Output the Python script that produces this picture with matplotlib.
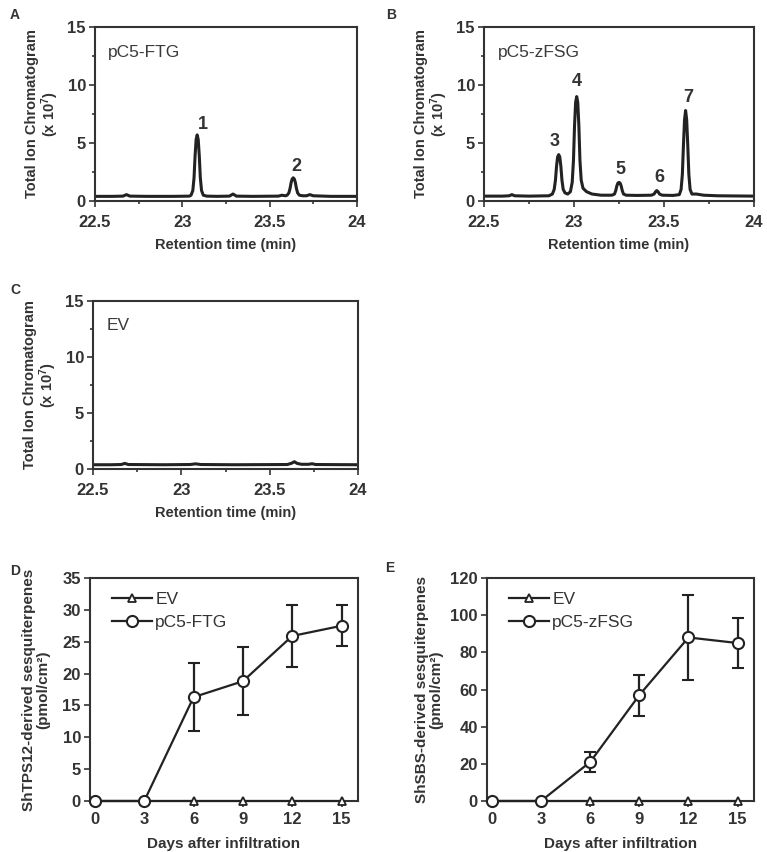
import matplotlib
matplotlib.use("Agg")
import matplotlib.pyplot as plt
from matplotlib.ticker import MultipleLocator
from matplotlib.lines import Line2D

plt.rcParams['font.family'] = ['Liberation Sans', 'DejaVu Sans']
plt.rcParams['mathtext.fontset'] = 'custom'
plt.rcParams['mathtext.rm'] = 'Liberation Sans:bold'
plt.rcParams['mathtext.it'] = 'Liberation Sans:bold'
plt.rcParams['mathtext.bf'] = 'Liberation Sans:bold'

# ---------------- data ----------------
# Chromatogram traces (retention time min, TIC x1e7)
ftg_t = [22.5, 22.6, 22.66, 22.68, 22.70, 22.8, 22.95, 23.04,
         23.05, 23.06, 23.067, 23.073, 23.079, 23.085, 23.091, 23.097, 23.103, 23.11, 23.12,
         23.14, 23.2, 23.27, 23.29, 23.31, 23.4, 23.55, 23.57, 23.59,
         23.60, 23.61, 23.617, 23.623, 23.629, 23.635, 23.641, 23.647, 23.653, 23.66, 23.67,
         23.69, 23.71, 23.73, 23.75, 23.85, 24.0]
ftg_i = [0.40, 0.40, 0.42, 0.55, 0.42, 0.40, 0.40, 0.42,
         0.5, 0.9, 2.0, 3.9, 5.3, 5.7, 5.3, 3.9, 2.0, 0.9, 0.5,
         0.42, 0.40, 0.42, 0.60, 0.42, 0.40, 0.42, 0.5, 0.45,
         0.5, 0.7, 1.1, 1.6, 1.9, 2.0, 1.9, 1.6, 1.1, 0.7, 0.5,
         0.45, 0.45, 0.55, 0.45, 0.40, 0.40]

zfsg_t = [22.5, 22.6, 22.64, 22.655, 22.67, 22.75, 22.86,
          22.88, 22.89, 22.897, 22.903, 22.909, 22.915, 22.921, 22.927, 22.933, 22.94, 22.95,
          22.965, 22.98,
          22.99, 22.997, 23.003, 23.009, 23.015, 23.021, 23.027, 23.033, 23.04, 23.05,
          23.07, 23.1, 23.15, 23.21,
          23.225, 23.232, 23.238, 23.244, 23.25, 23.256, 23.262, 23.268, 23.275,
          23.29, 23.35, 23.43,
          23.445, 23.453, 23.46, 23.467, 23.475, 23.49, 23.55,
          23.585, 23.595, 23.602, 23.608, 23.614, 23.62, 23.626, 23.632, 23.638, 23.645, 23.655,
          23.68, 23.70, 23.72, 23.8, 24.0]
zfsg_i = [0.42, 0.42, 0.45, 0.55, 0.45, 0.42, 0.45,
          0.6, 1.0, 1.8, 3.0, 3.8, 4.0, 3.8, 3.0, 1.8, 1.0, 0.7,
          0.6, 0.8,
          1.6, 3.5, 6.5, 8.5, 9.0, 8.5, 6.5, 3.5, 1.8, 1.1,
          0.8, 0.6, 0.5, 0.5,
          0.6, 0.9, 1.3, 1.55, 1.6, 1.55, 1.3, 0.9, 0.6,
          0.5, 0.48, 0.5,
          0.6, 0.8, 0.9, 0.8, 0.6, 0.5, 0.48,
          0.55, 1.0, 2.3, 4.8, 7.0, 7.8, 7.0, 4.8, 2.3, 1.0, 0.6,
          0.6, 0.55, 0.5, 0.45, 0.42]

ev_t = [22.5, 22.6, 22.66, 22.68, 22.70, 22.9, 23.05, 23.08, 23.11, 23.3, 23.6, 23.625,
        23.64, 23.655, 23.68, 23.72, 23.74, 23.76, 24.0]
ev_i = [0.38, 0.38, 0.40, 0.50, 0.40, 0.38, 0.40, 0.46, 0.40, 0.38, 0.40, 0.52,
        0.65, 0.50, 0.42, 0.42, 0.47, 0.40, 0.38]

# Peak labels
ftg_peak_labels = ["1", "2"]
ftg_peak_pos = [(23.12, 6.6), (23.655, 3.0)]
zfsg_peak_labels = ["3", "4", "5", "6", "7"]
zfsg_peak_pos = [(22.895, 5.1), (23.015, 10.3), (23.26, 2.7), (23.475, 2.0), (23.635, 8.9)]

# Time course
days = [0, 3, 6, 9, 12, 15]
ev_d = [0, 0, 0, 0, 0, 0]
ftg_d = [0, 0, 16.3, 18.8, 25.9, 27.5]
ftg_err = [0, 0, 5.3, 5.3, 4.8, 3.2]
ev_e = [0, 0, 0, 0, 0, 0]
zfsg_e = [0, 0, 21, 57, 88, 85]
zfsg_err = [0, 0, 5.5, 11, 23, 13.5]

# ---------------- layout ----------------
W, H = 767, 852
fig = plt.figure(figsize=(W / 100, H / 100), dpi=100)
TXT = '#333333'
LINE = '#222222'


def add_ax(l, t, r, b):
    return fig.add_axes([l / W, 1 - b / H, (r - l) / W, (b - t) / H])


def style(ax, ls=12, xpad=2.5):
    for s in ax.spines.values():
        s.set_linewidth(1.5)
        s.set_color(TXT)
    ax.tick_params(which='both', direction='out', color=TXT, labelcolor=TXT,
                   labelsize=ls, width=1.2, pad=2.5)
    ax.tick_params(axis='x', which='both', pad=xpad)
    ax.tick_params(which='major', length=4)
    ax.tick_params(which='minor', length=2.5)
    for lab in ax.get_xticklabels() + ax.get_yticklabels():
        lab.set_fontweight('bold')


def chrom(ax, t, i, name):
    ax.plot(t, i, color=LINE, lw=2.2, solid_joinstyle='round')
    ax.set_xlim(22.5, 24)
    ax.set_ylim(0, 15)
    ax.set_xticks([22.5, 23, 23.5, 24])
    ax.set_xticklabels(['22.5', '23', '23.5', '24'])
    ax.xaxis.set_minor_locator(MultipleLocator(0.25))
    ax.set_yticks([0, 5, 10, 15])
    ax.yaxis.set_minor_locator(MultipleLocator(2.5))
    ax.set_xlabel('Retention time (min)', fontsize=10.5, fontweight='bold', color=TXT, labelpad=6)
    ax.set_ylabel('Total Ion Chromatogram\n(x 10$^{7}$)', fontsize=10.5, fontweight='bold',
                  color=TXT, labelpad=5, linespacing=1.0)
    ax.text(22.575, 12.8, name, fontsize=12.5, color='#3a3a3a', va='center', ha='left')
    style(ax, xpad=6)


axA = add_ax(95, 27, 357, 201)
chrom(axA, ftg_t, ftg_i, 'pC5-FTG')
for lab, (x, y) in zip(ftg_peak_labels, ftg_peak_pos):
    axA.text(x, y, lab, fontsize=13, fontweight='bold', color=TXT, ha='center', va='center')

axB = add_ax(484, 27, 754, 201)
chrom(axB, zfsg_t, zfsg_i, 'pC5-zFSG')
for lab, (x, y) in zip(zfsg_peak_labels, zfsg_peak_pos):
    axB.text(x, y, lab, fontsize=13, fontweight='bold', color=TXT, ha='center', va='center')

axC = add_ax(93, 301, 358, 469)
chrom(axC, ev_t, ev_i, 'EV')


def course(ax, y, err, name, ymax, ystep, ylabel, ypad):
    ax.plot(days, ev_d, color=LINE, lw=1.6, marker='^', markersize=5.5,
            markerfacecolor='white', markeredgecolor=LINE, markeredgewidth=1.3,
            clip_on=False, zorder=3)
    ax.errorbar(days, y, yerr=err, color=LINE, lw=1.6, marker='o', markersize=8,
                markerfacecolor='white', markeredgecolor=LINE, markeredgewidth=1.5,
                capsize=4, elinewidth=1.6, capthick=1.6, clip_on=False, zorder=4)
    ax.set_xlim(-0.3, 16)
    ax.set_ylim(0, ymax)
    ax.set_xticks(days)
    ax.set_yticks(list(range(0, ymax + 1, ystep)))
    ax.set_xlabel('Days after infiltration', fontsize=11, fontweight='bold', color=TXT, labelpad=7)
    ax.set_ylabel(ylabel, fontsize=11, fontweight='bold', color=TXT, labelpad=ypad, linespacing=1.0)
    handles = [Line2D([], [], color=LINE, lw=1.6, marker='^', markersize=5.5,
                      markerfacecolor='white', markeredgecolor=LINE, markeredgewidth=1.3),
               Line2D([], [], color=LINE, lw=1.6, marker='o', markersize=8,
                      markerfacecolor='white', markeredgecolor=LINE, markeredgewidth=1.5)]
    ax.legend(handles, ['EV', name], loc='upper left', frameon=False, fontsize=12.5,
              handlelength=2.3, handletextpad=0.2, borderaxespad=0.4, labelspacing=0.45,
              labelcolor=TXT, bbox_to_anchor=(0.03, 1.0))
    style(ax, ls=12, xpad=4)


axD = add_ax(90, 578, 358, 801)
course(axD, ftg_d, ftg_err, 'pC5-FTG', 35, 5,
       'ShTPS12-derived sesquiterpenes\n(pmol/cm²)', 9)

axE = add_ax(487, 578, 754, 801)
course(axE, zfsg_e, zfsg_err, 'pC5-zFSG', 120, 20,
       'ShSBS-derived sesquiterpenes\n(pmol/cm²)', 5)

# panel letters
for letter, (x, y) in zip(['A', 'B', 'C', 'D', 'E'],
                          [(10, 15), (386, 15), (10, 290), (10, 571), (385, 568)]):
    fig.text(x / W, 1 - y / H, letter, fontsize=10, fontweight='bold', color=TXT,
             ha='left', va='center')

fig.savefig('out.png', dpi=100, facecolor='white')
